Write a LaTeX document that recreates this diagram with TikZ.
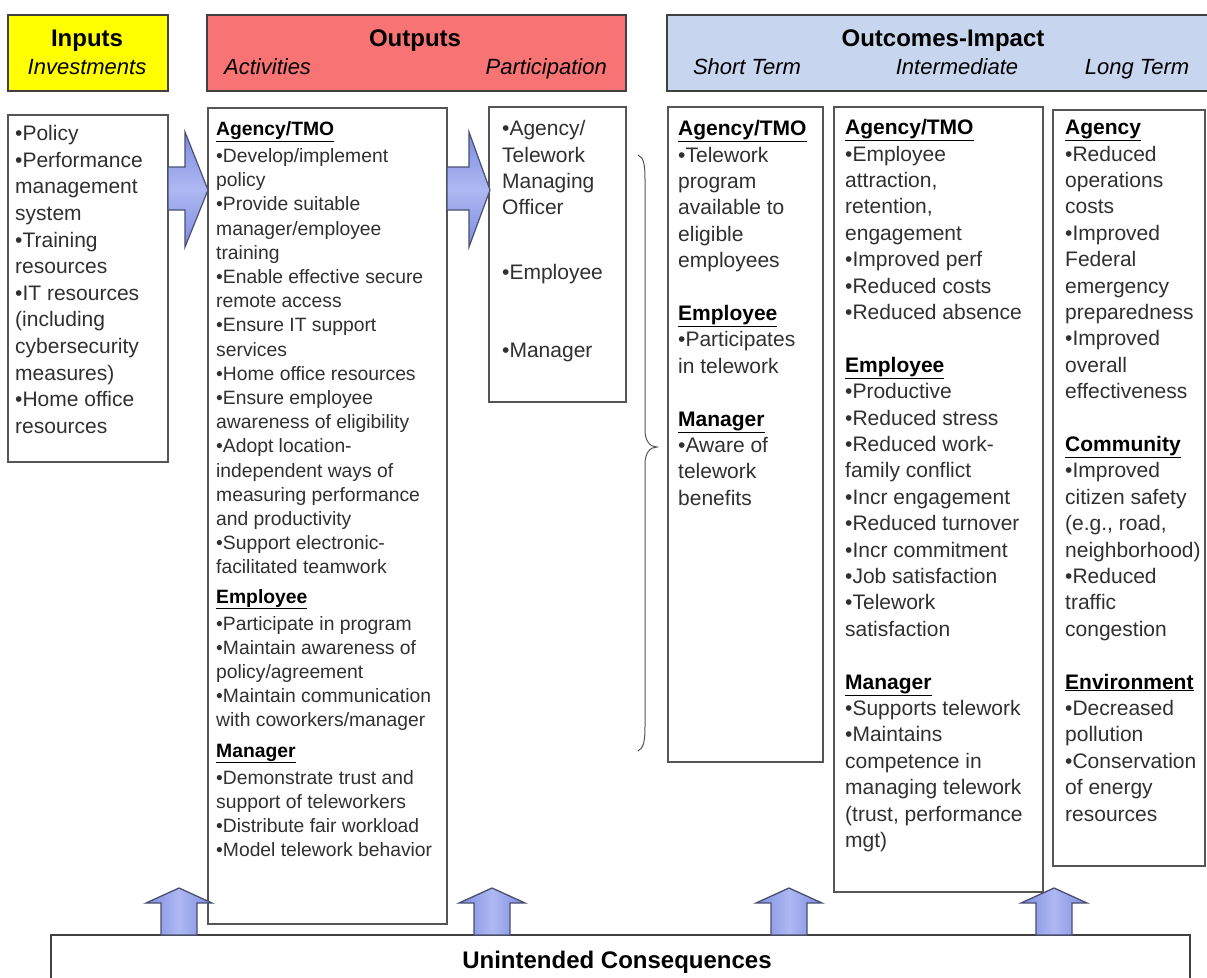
\documentclass[tikz,border=0pt]{standalone}
\usepackage{fontspec}
\setmainfont{Liberation Sans}
\definecolor{hdrline}{HTML}{404040}
\definecolor{yel}{HTML}{FFFF00}
\definecolor{redh}{HTML}{F87474}
\definecolor{blueh}{HTML}{C8D5EE}
\definecolor{boxline}{HTML}{555555}
\definecolor{txt}{HTML}{303030}
\definecolor{arrA}{HTML}{7D8CE0}
\definecolor{arrB}{HTML}{AEB8F2}
\definecolor{arrline}{HTML}{4A4F70}
\newcommand\secth[1]{{\color{black}\bfseries\underline{#1}}}
\begin{document}
\begin{tikzpicture}[x=1pt,y=-1pt,
  hdr/.style={draw=hdrline,line width=1.8pt},
  bx/.style={draw=boxline,line width=1.2pt},
  htitle/.style={anchor=base,inner sep=0pt,font=\fontsize{24}{28}\selectfont\bfseries},
  hsub/.style={anchor=base,inner sep=0pt,font=\fontsize{22}{26}\selectfont\itshape},
  bodyA/.style={anchor=north west,inner sep=0pt,align=left,text=txt,font=\fontsize{21}{26.4}\selectfont},
  bodyB/.style={anchor=north west,inner sep=0pt,align=left,text=txt,font=\fontsize{19.3}{24.2}\selectfont},
  rarr/.style={draw=arrline,line width=1.2pt,top color=arrA,bottom color=arrA,middle color=arrB},
  uarr/.style={draw=arrline,line width=1.3pt,left color=arrA,right color=arrA,middle color=arrB}]
\clip (0,0) rectangle (1207,977);
\fill[white] (0,0) rectangle (1207,977);

% header boxes
\draw[hdr,fill=yel] (8,15) rectangle (168,91);
\draw[hdr,fill=redh] (207,15) rectangle (626,91);
\draw[hdr,fill=blueh] (667,15) rectangle (1215,91);
\node[htitle] (tin) at (87,46.6) {Inputs};
\node[hsub] (sin) at (87,74.9) {Investments};
\node[htitle] (tout) at (415,46.6) {Outputs};
\node[hsub,anchor=base west] (sact) at (224,74.9) {Activities};
\node[hsub,anchor=base east] (spart) at (607,74.9) {Participation};
\node[htitle] (toc) at (943,46.6) {Outcomes-Impact};
\node[hsub] (sst) at (747,74.9) {Short Term};
\node[hsub] (sint) at (957,74.9) {Intermediate};
\node[hsub] (slt) at (1137,74.9) {Long Term};

% body boxes
\draw[bx] (8,115) rectangle (168,462);
\draw[bx] (208,108) rectangle (447,924);
\draw[bx] (489,107) rectangle (626,402);
\draw[bx] (668,107) rectangle (823,762);
\draw[bx] (834,107) rectangle (1043,892);
\draw[bx] (1053,110) rectangle (1205,866);

% inputs
\node[bodyA,font=\fontsize{21}{26.6}\selectfont] (inputs) at (15,121.9) {\strut•Policy\\•Performance\\management\\system\\•Training\\resources\\•IT resources\\(including\\cybersecurity\\measures)\\•Home office\\resources};

% activities
\node[bodyB] (act) at (216,118.3) {\strut\secth{Agency/TMO}\\[2.8pt]
•Develop/implement\\policy\\•Provide suitable\\manager/employee\\training\\•Enable effective secure\\remote access\\•Ensure IT support\\services\\•Home office resources\\•Ensure employee\\awareness of eligibility\\•Adopt location-\\independent ways of\\measuring performance\\and productivity\\•Support electronic-\\facilitated teamwork\\[5pt]
\secth{Employee}\\[2.8pt]
•Participate in program\\•Maintain awareness of\\policy/agreement\\•Maintain communication\\with coworkers/manager\\[6pt]
\secth{Manager}\\[2.8pt]
•Demonstrate trust and\\support of teleworkers\\•Distribute fair workload\\•Model telework behavior};

% participation
\node[bodyA] (part) at (502,117) {\strut•Agency/\\Telework\\Managing\\Officer\\[38.6pt]•Employee\\[51.6pt]•Manager};

% short term
\node[bodyA] (short) at (678,117) {\strut\secth{Agency/TMO}\\•Telework\\program\\available to\\eligible\\employees\\[26.4pt]
\secth{Employee}\\•Participates\\in telework\\[26.4pt]
\secth{Manager}\\•Aware of\\telework\\benefits};

% intermediate
\node[bodyA] (inter) at (845,116) {\strut\secth{Agency/TMO}\\•Employee\\attraction,\\retention,\\engagement\\•Improved perf\\•Reduced costs\\•Reduced absence\\[26.4pt]
\secth{Employee}\\•Productive\\•Reduced stress\\•Reduced work-\\family conflict\\•Incr engagement\\•Reduced turnover\\•Incr commitment\\•Job satisfaction\\•Telework\\satisfaction\\[26.4pt]
\secth{Manager}\\•Supports telework\\•Maintains\\competence in\\managing telework\\(trust, performance\\mgt)};

% long term
\node[bodyA] (long) at (1065,116) {\strut\secth{Agency}\\•Reduced\\operations\\costs\\•Improved\\Federal\\emergency\\preparedness\\•Improved\\overall\\effectiveness\\[26.4pt]
\secth{Community}\\•Improved\\citizen safety\\(e.g., road,\\neighborhood)\\•Reduced\\traffic\\congestion\\[26.4pt]
\secth{Environment}\\•Decreased\\pollution\\•Conservation\\of energy\\resources};

% right block arrows
\foreach \xs/\xb/\xt in {168/185/208, 447/469/490}{
  \draw[rarr] (\xs,167) -- (\xb,167) -- (\xb,132) -- (\xt,190) -- (\xb,247) -- (\xb,210) -- (\xs,210) -- cycle;
}

% brace
\draw[boxline,line width=1pt] (638,155) .. controls (644,157) and (645,166) .. (645,180) -- (645,430)
  .. controls (645,441) and (650,447) .. (657,447) .. controls (650,447) and (645,453) .. (645,464)
  -- (645,726) .. controls (645,740) and (644,748) .. (638,751);

% unintended consequences
\draw[hdr,line width=1.5pt,fill=white] (51,935) rectangle (1190,1000);
\node[htitle] (unint) at (617,968) {Unintended Consequences};

% up arrows
\foreach \cx in {179,492,789,1054}{
  \draw[uarr] (\cx-18,935) -- (\cx-18,903) -- (\cx-33,903) -- (\cx,888) -- (\cx+33,903) -- (\cx+18,903) -- (\cx+18,935) -- cycle;
}
\end{tikzpicture}
\end{document}
